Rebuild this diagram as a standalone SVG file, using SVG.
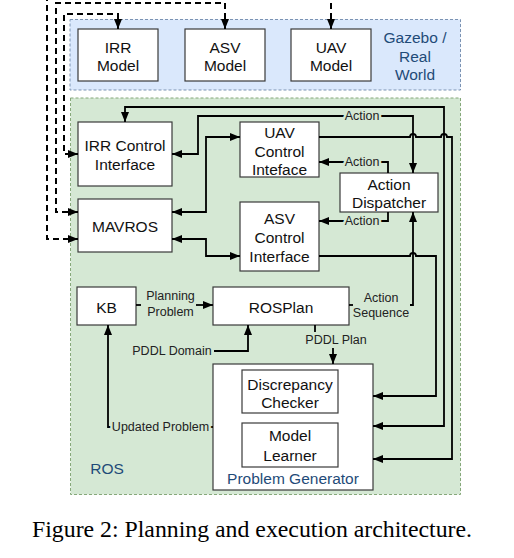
<svg xmlns="http://www.w3.org/2000/svg" width="514" height="558" viewBox="0 0 514 558">
<style>
.box{fill:#fff;stroke:#3a3a3a;stroke-width:1.2}
.t{font-family:"Liberation Sans",Arial,sans-serif;font-size:15.5px;fill:#111;text-anchor:middle}
.bt{font-family:"Liberation Sans",Arial,sans-serif;font-size:15.5px;fill:#1f4b78;text-anchor:middle}
.lbl{font-family:"Liberation Sans",Arial,sans-serif;font-size:12.5px;fill:#222;text-anchor:middle;paint-order:stroke;stroke:#d5e8d4;stroke-width:5px;stroke-linejoin:round}
.c{fill:none;stroke:#000;stroke-width:1.8}
.d{fill:none;stroke:#000;stroke-width:2;stroke-dasharray:6,4}
.a{marker-end:url(#ah)}
.aa{marker-start:url(#ah);marker-end:url(#ah)}
</style>
<defs>
<marker id="ah" viewBox="0 0 10 8" refX="10" refY="4" markerWidth="10" markerHeight="8" markerUnits="userSpaceOnUse" orient="auto-start-reverse">
<path d="M0,0 L10,4 L0,8 z" fill="#000"/>
</marker>
</defs>
<rect width="514" height="558" fill="#fff"/>

<g id="gazebo">
<rect x="70" y="19.5" width="390.5" height="70.5" fill="#dae8fc" stroke="#7b93b3" stroke-width="1" stroke-dasharray="3,2"/>
<text class="bt" x="415" y="43">Gazebo /</text>
<text class="bt" x="415" y="62">Real</text>
<text class="bt" x="415" y="80">World</text>
</g>
<g id="ros">
<rect x="70.5" y="98" width="390" height="396.5" fill="#d5e8d4" stroke="#86a87a" stroke-width="1" stroke-dasharray="3,2"/>
<text class="bt" x="107" y="474">ROS</text>
</g>

<g id="irr-model"><rect class="box" x="78" y="29" width="80" height="52"/><text class="t" x="118" y="53">IRR</text><text class="t" x="118" y="71">Model</text></g>
<g id="asv-model"><rect class="box" x="185" y="29" width="80" height="52"/><text class="t" x="225" y="53">ASV</text><text class="t" x="225" y="71">Model</text></g>
<g id="uav-model"><rect class="box" x="291" y="29" width="80" height="52"/><text class="t" x="331" y="53">UAV</text><text class="t" x="331" y="71">Model</text></g>

<g id="irr-control"><rect class="box" x="78" y="122" width="94" height="64"/><text class="t" x="125" y="151">IRR Control</text><text class="t" x="125" y="170">Interface</text></g>
<g id="mavros"><rect class="box" x="78" y="199" width="94" height="53"/><text class="t" x="125" y="232">MAVROS</text></g>
<g id="uav-control"><rect class="box" x="240" y="122" width="79" height="55"/><text class="t" x="279.5" y="138">UAV</text><text class="t" x="279.5" y="157">Control</text><text class="t" x="279.5" y="175">Inteface</text></g>
<g id="asv-control"><rect class="box" x="240" y="202" width="79" height="69"/><text class="t" x="279.5" y="224">ASV</text><text class="t" x="279.5" y="243">Control</text><text class="t" x="279.5" y="262">Interface</text></g>
<g id="action-dispatcher"><rect class="box" x="340" y="173" width="98" height="39"/><text class="t" x="389" y="190">Action</text><text class="t" x="389" y="208">Dispatcher</text></g>
<g id="kb"><rect class="box" x="77" y="287" width="59" height="38"/><text class="t" x="106.5" y="313">KB</text></g>
<g id="rosplan"><rect class="box" x="213" y="287" width="136" height="38"/><text class="t" x="281" y="313">ROSPlan</text></g>
<g id="problem-generator"><rect class="box" x="213" y="364" width="160" height="126"/><text class="bt" x="293" y="484">Problem Generator</text></g>
<g id="discrepancy-checker"><rect class="box" x="242" y="370" width="96" height="43"/><text class="t" x="290" y="390">Discrepancy</text><text class="t" x="290" y="408">Checker</text></g>
<g id="model-learner"><rect class="box" x="242" y="423" width="96" height="44"/><text class="t" x="290" y="441">Model</text><text class="t" x="290" y="461">Learner</text></g>

<g id="connectors">
<path class="d aa" d="M118,29 V14 H64 V154 H78"/>
<path class="d aa" d="M225,29 V3 H56 V212 H78"/>
<path class="d aa" d="M331,29 V-6 H47 V239 H78"/>

<path class="c aa" d="M125,122 V107 H444 V426 H373"/>
<path class="c aa" d="M172,154 H198 V116 H413 V173"/>
<path class="c a" d="M319,137 H410 a3,3 0 0 1 6,0 H441 a3,3 0 0 1 6,0 H452 V459 H373"/>
<path class="c a" d="M319,256 H410 a3,3 0 0 1 6,0 H436 V396 H373"/>
<path class="c aa" d="M172,212 H206 V137 H240"/>
<path class="c aa" d="M172,239 H206 V256 H240"/>
<path class="c a" d="M388,173 V162 H319"/>
<path class="c a" d="M388,212 V221 H319"/>
<path class="c" d="M349,305 H353"/>
<path class="c a" d="M410,305 H413 V212"/>
<path class="c" d="M136,305 H141"/>
<path class="c a" d="M196,305 H213"/>
<path class="c a" d="M214,351 H248 V325"/>
<path class="c" d="M315,325 V332"/>
<path class="c a" d="M333,348 V364"/>
<path class="c" d="M209,427 H213"/>
<path class="c a" d="M111,427 H108 V325"/>

<text class="lbl" x="362" y="120">Action</text>
<text class="lbl" x="362" y="166">Action</text>
<text class="lbl" x="362" y="225">Action</text>
<text class="lbl" x="381" y="302">Action</text>
<text class="lbl" x="381" y="317">Sequence</text>
<text class="lbl" x="170.5" y="300">Planning</text>
<text class="lbl" x="170.5" y="316">Problem</text>
<text class="lbl" x="172" y="355">PDDL Domain</text>
<text class="lbl" x="336" y="344">PDDL Plan</text>
<text class="lbl" x="160.5" y="431">Updated Problem</text>
</g>

<text x="252" y="537" font-family="'Liberation Serif','Times New Roman',serif" font-size="22.5" fill="#000" text-anchor="middle" textLength="440" lengthAdjust="spacingAndGlyphs">Figure 2: Planning and execution architecture.</text>
</svg>
